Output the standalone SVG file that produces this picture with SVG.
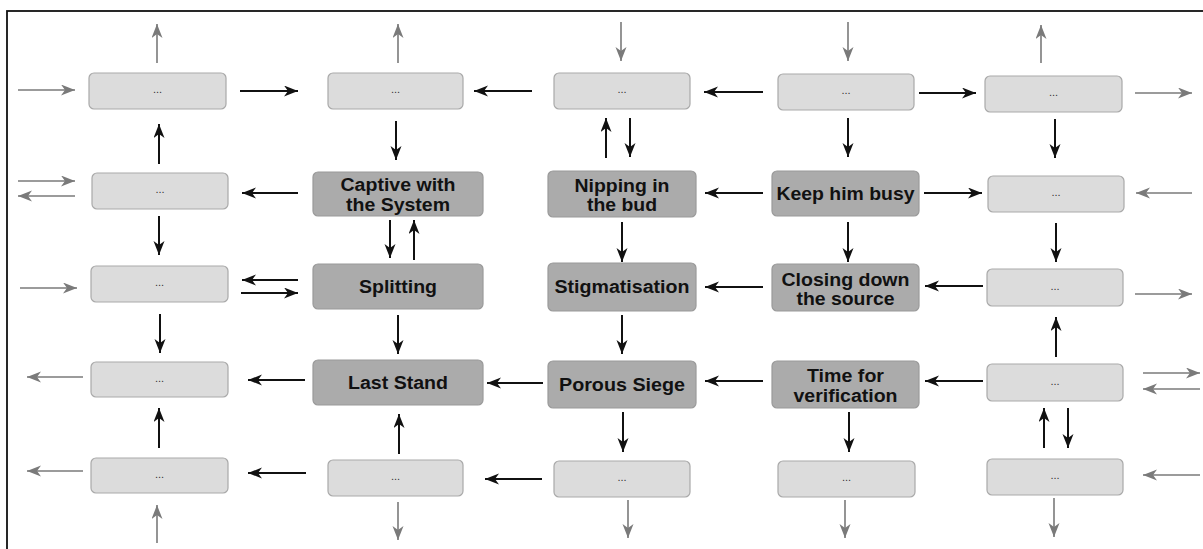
<svg xmlns="http://www.w3.org/2000/svg" width="1203" height="549" viewBox="0 0 1203 549">
<style>
.l{fill:#dcdcdc;stroke:#a9a9a9;stroke-width:1.2}
.d{fill:#ababab;stroke:#9a9a9a;stroke-width:1.2}
.dots{font-family:"Liberation Sans",Arial,sans-serif;font-size:11px;fill:#333;text-anchor:middle}
.t{font-family:"Liberation Sans",Arial,sans-serif;font-size:17.5px;font-weight:bold;fill:#111;text-anchor:middle}
.b{stroke:#111;stroke-width:2;fill:none;marker-end:url(#ab)}
.g{stroke:#7a7a7a;stroke-width:1.6;fill:none;marker-end:url(#ag)}
</style>
<defs>
<marker id="ab" markerUnits="userSpaceOnUse" markerWidth="15" markerHeight="12" refX="14" refY="5.5" orient="auto">
<path d="M0,0 L14,5.5 L0,11 L4,5.5 z" fill="#111"/>
</marker>
<marker id="ag" markerUnits="userSpaceOnUse" markerWidth="15" markerHeight="12" refX="14" refY="5.5" orient="auto">
<path d="M0,0 L14,5.5 L0,11 L4,5.5 z" fill="#7a7a7a"/>
</marker>
</defs>
<rect x="0" y="0" width="1203" height="549" fill="#fff"/>
<rect x="7" y="11" width="1220" height="570" fill="none" stroke="#111" stroke-width="1.8"/>

<g id="connectors">
<line class="g" x1="157" y1="63" x2="157" y2="24"/>
<line class="g" x1="18" y1="90" x2="75" y2="90"/>
<line class="g" x1="398" y1="63" x2="398" y2="24"/>
<line class="g" x1="621" y1="22" x2="621" y2="61"/>
<line class="g" x1="848" y1="22" x2="848" y2="61"/>
<line class="g" x1="1041" y1="63" x2="1041" y2="25"/>
<line class="g" x1="1135" y1="93" x2="1192" y2="93"/>
<line class="g" x1="18" y1="181" x2="75" y2="181"/>
<line class="g" x1="75" y1="196" x2="18" y2="196"/>
<line class="g" x1="1192" y1="193" x2="1136" y2="193"/>
<line class="g" x1="20" y1="288" x2="77" y2="288"/>
<line class="g" x1="1135" y1="294" x2="1192" y2="294"/>
<line class="g" x1="83" y1="377" x2="27" y2="377"/>
<line class="g" x1="1143" y1="373" x2="1200" y2="373"/>
<line class="g" x1="1200" y1="389" x2="1143" y2="389"/>
<line class="g" x1="83" y1="471" x2="27" y2="471"/>
<line class="g" x1="1200" y1="475" x2="1143" y2="475"/>
<line class="g" x1="157" y1="543" x2="157" y2="505"/>
<line class="g" x1="398" y1="502" x2="398" y2="540"/>
<line class="g" x1="628" y1="500" x2="628" y2="538"/>
<line class="g" x1="845" y1="500" x2="845" y2="538"/>
<line class="g" x1="1054" y1="498" x2="1054" y2="537"/>

<line class="b" x1="240" y1="91" x2="298" y2="91"/>
<line class="b" x1="532" y1="91" x2="474" y2="91"/>
<line class="b" x1="763" y1="92" x2="704" y2="92"/>
<line class="b" x1="919" y1="93" x2="976" y2="93"/>
<line class="b" x1="159" y1="164" x2="159" y2="124"/>
<line class="b" x1="396" y1="121" x2="396" y2="160"/>
<line class="b" x1="606" y1="158" x2="606" y2="118"/>
<line class="b" x1="630" y1="118" x2="630" y2="157"/>
<line class="b" x1="848" y1="118" x2="848" y2="157"/>
<line class="b" x1="1055" y1="119" x2="1055" y2="158"/>
<line class="b" x1="298" y1="193" x2="242" y2="193"/>
<line class="b" x1="763" y1="193" x2="705" y2="193"/>
<line class="b" x1="924" y1="193" x2="982" y2="193"/>
<line class="b" x1="159" y1="216" x2="159" y2="255"/>
<line class="b" x1="390" y1="220" x2="390" y2="258"/>
<line class="b" x1="414" y1="260" x2="414" y2="220"/>
<line class="b" x1="622" y1="222" x2="622" y2="262"/>
<line class="b" x1="848" y1="222" x2="848" y2="262"/>
<line class="b" x1="1056" y1="223" x2="1056" y2="262"/>
<line class="b" x1="298" y1="280" x2="242" y2="280"/>
<line class="b" x1="241" y1="293" x2="298" y2="293"/>
<line class="b" x1="763" y1="287" x2="705" y2="287"/>
<line class="b" x1="983" y1="286" x2="925" y2="286"/>
<line class="b" x1="160" y1="314" x2="160" y2="353"/>
<line class="b" x1="398" y1="315" x2="398" y2="354"/>
<line class="b" x1="622" y1="315" x2="622" y2="354"/>
<line class="b" x1="1056" y1="357" x2="1056" y2="317"/>
<line class="b" x1="305" y1="380" x2="248" y2="380"/>
<line class="b" x1="543" y1="383" x2="487" y2="383"/>
<line class="b" x1="763" y1="381" x2="705" y2="381"/>
<line class="b" x1="983" y1="381" x2="925" y2="381"/>
<line class="b" x1="159" y1="448" x2="159" y2="408"/>
<line class="b" x1="399" y1="454" x2="399" y2="414"/>
<line class="b" x1="623" y1="412" x2="623" y2="452"/>
<line class="b" x1="849" y1="412" x2="849" y2="452"/>
<line class="b" x1="1044" y1="448" x2="1044" y2="408"/>
<line class="b" x1="1068" y1="408" x2="1068" y2="448"/>
<line class="b" x1="306" y1="473" x2="248" y2="473"/>
<line class="b" x1="542" y1="479" x2="485" y2="479"/>
</g>

<g id="c1r1"><rect class="l" x="89" y="73" width="137" height="36" rx="5"/><text class="dots" x="157.5" y="93">...</text></g>
<g id="c1r2"><rect class="l" x="92" y="173" width="136" height="36" rx="5"/><text class="dots" x="160" y="193">...</text></g>
<g id="c1r3"><rect class="l" x="91" y="266" width="137" height="36" rx="5"/><text class="dots" x="159.5" y="286">...</text></g>
<g id="c1r4"><rect class="l" x="91" y="362" width="137" height="35" rx="5"/><text class="dots" x="159.5" y="382">...</text></g>
<g id="c1r5"><rect class="l" x="91" y="458" width="137" height="35" rx="5"/><text class="dots" x="159.5" y="478">...</text></g>
<g id="c2r1"><rect class="l" x="328" y="73" width="135" height="36" rx="5"/><text class="dots" x="395.5" y="93">...</text></g>
<g id="c2r5"><rect class="l" x="328" y="460" width="135" height="36" rx="5"/><text class="dots" x="395.5" y="480">...</text></g>
<g id="c3r1"><rect class="l" x="554" y="73" width="136" height="36" rx="5"/><text class="dots" x="622" y="93">...</text></g>
<g id="c3r5"><rect class="l" x="554" y="461" width="136" height="36" rx="5"/><text class="dots" x="622" y="481">...</text></g>
<g id="c4r1"><rect class="l" x="778" y="74" width="136" height="36" rx="5"/><text class="dots" x="846" y="94">...</text></g>
<g id="c4r5"><rect class="l" x="778" y="461" width="137" height="36" rx="5"/><text class="dots" x="846.5" y="481">...</text></g>
<g id="c5r1"><rect class="l" x="985" y="76" width="137" height="36" rx="5"/><text class="dots" x="1053.5" y="96">...</text></g>
<g id="c5r2"><rect class="l" x="988" y="176" width="136" height="36" rx="5"/><text class="dots" x="1056" y="196">...</text></g>
<g id="c5r3"><rect class="l" x="987" y="269" width="136" height="37" rx="5"/><text class="dots" x="1055" y="290">...</text></g>
<g id="c5r4"><rect class="l" x="987" y="364" width="136" height="37" rx="5"/><text class="dots" x="1055" y="385">...</text></g>
<g id="c5r5"><rect class="l" x="987" y="459" width="136" height="36" rx="5"/><text class="dots" x="1055" y="479">...</text></g>

<g id="captive"><rect class="d" x="313" y="172" width="170" height="44" rx="5"/><text class="t" x="398" y="191" textLength="115" lengthAdjust="spacingAndGlyphs">Captive with</text><text class="t" x="398" y="210.5" textLength="104" lengthAdjust="spacingAndGlyphs">the System</text></g>
<g id="splitting"><rect class="d" x="313" y="264" width="170" height="45" rx="5"/><text class="t" x="398" y="293" textLength="78" lengthAdjust="spacingAndGlyphs">Splitting</text></g>
<g id="laststand"><rect class="d" x="313" y="360" width="170" height="45" rx="5"/><text class="t" x="398" y="389" textLength="100" lengthAdjust="spacingAndGlyphs">Last Stand</text></g>
<g id="nipping"><rect class="d" x="548" y="171" width="148" height="46" rx="5"/><text class="t" x="622" y="191.5" textLength="95" lengthAdjust="spacingAndGlyphs">Nipping in</text><text class="t" x="622" y="211" textLength="70" lengthAdjust="spacingAndGlyphs">the bud</text></g>
<g id="stigmatisation"><rect class="d" x="548" y="263" width="148" height="48" rx="5"/><text class="t" x="622" y="293" textLength="135" lengthAdjust="spacingAndGlyphs">Stigmatisation</text></g>
<g id="porous"><rect class="d" x="548" y="361" width="148" height="47" rx="5"/><text class="t" x="622" y="390.5" textLength="126" lengthAdjust="spacingAndGlyphs">Porous Siege</text></g>
<g id="keep"><rect class="d" x="772" y="171" width="147" height="45" rx="5"/><text class="t" x="845.5" y="199.5" textLength="138" lengthAdjust="spacingAndGlyphs">Keep him busy</text></g>
<g id="closing"><rect class="d" x="772" y="264" width="147" height="47" rx="5"/><text class="t" x="845.5" y="285.5" textLength="128" lengthAdjust="spacingAndGlyphs">Closing down</text><text class="t" x="845.5" y="305" textLength="98" lengthAdjust="spacingAndGlyphs">the source</text></g>
<g id="time"><rect class="d" x="772" y="361" width="147" height="47" rx="5"/><text class="t" x="845.5" y="382" textLength="77" lengthAdjust="spacingAndGlyphs">Time for</text><text class="t" x="845.5" y="401.5" textLength="104" lengthAdjust="spacingAndGlyphs">verification</text></g>
</svg>
